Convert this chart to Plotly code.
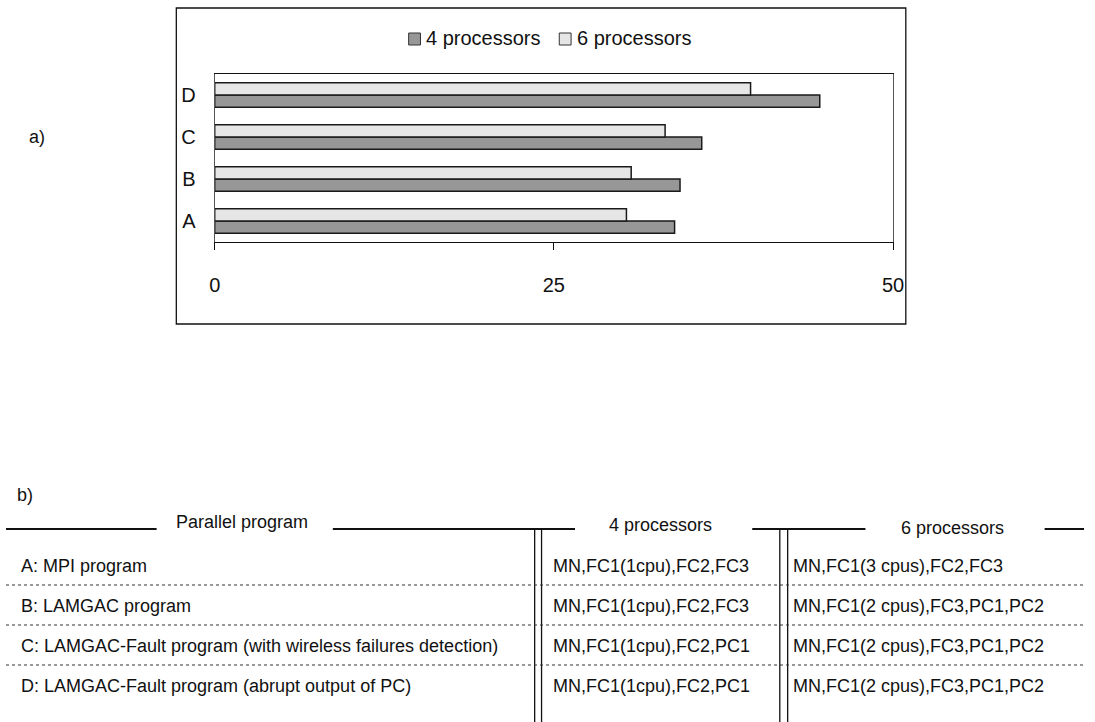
import plotly.graph_objects as go

W, H = 1095, 722

# ---------------- data ----------------
categories = ["A", "B", "C", "D"]
series_names = ["4 processors", "6 processors"]
vals_4proc = [33.9, 34.3, 35.9, 44.6]
vals_6proc = [30.35, 30.7, 33.2, 39.5]
x_ticks = [0, 25, 50]

header_labels = ["Parallel program", "4 processors", "6 processors"]
program_names = [
    "A: MPI program",
    "B: LAMGAC program",
    "C: LAMGAC-Fault program (with wireless failures detection)",
    "D: LAMGAC-Fault program (abrupt output of PC)",
]
config_4proc = [
    "MN,FC1(1cpu),FC2,FC3",
    "MN,FC1(1cpu),FC2,FC3",
    "MN,FC1(1cpu),FC2,PC1",
    "MN,FC1(1cpu),FC2,PC1",
]
config_6proc = [
    "MN,FC1(3 cpus),FC2,FC3",
    "MN,FC1(2 cpus),FC3,PC1,PC2",
    "MN,FC1(2 cpus),FC3,PC1,PC2",
    "MN,FC1(2 cpus),FC3,PC1,PC2",
]


def px(x):
    return x / W


def py(y):
    return 1 - y / H


FONT = "Liberation Sans, Arial, sans-serif"
colors = ["#979797", "#e6e6e6"]

fig = go.Figure()
for name, vals, col in zip(series_names, [vals_4proc, vals_6proc], colors):
    fig.add_trace(go.Bar(
        y=categories, x=vals, orientation="h", name=name, showlegend=False,
        marker=dict(color=col, line=dict(color="#1a1a1a", width=1.5)),
    ))

shapes = []
annotations = []

# outer frame of chart a)
shapes.append(dict(type="rect", xref="paper", yref="paper",
                   x0=px(173), x1=px(914), y0=py(324), y1=py(8),
                   line=dict(color="#111", width=1.3)))

# legend (manual, Excel style: small square right next to the text)
for name, col, sx in zip(series_names, colors, [409, 562]):
    shapes.append(dict(type="rect", xref="paper", yref="paper",
                       x0=px(sx), x1=px(sx + 12), y0=py(45), y1=py(33),
                       fillcolor=col, line=dict(color="#333", width=1)))
    annotations.append(dict(text=name, xref="paper", yref="paper", x=px(sx + 16), y=py(38),
                            xanchor="left", yanchor="middle", showarrow=False,
                            font=dict(size=20, color="#111", family=FONT)))

annotations.append(dict(text="a)", xref="paper", yref="paper", x=px(21), y=py(137),
                        xanchor="left", yanchor="middle", showarrow=False,
                        font=dict(size=18, color="#111", family=FONT)))
annotations.append(dict(text="b)", xref="paper", yref="paper", x=px(9), y=py(495),
                        xanchor="left", yanchor="middle", showarrow=False,
                        font=dict(size=18, color="#111", family=FONT)))

# ---------- table b) ----------
hdr_y = 529
for x0, x1 in [(0, 153), (332, 578), (758, 873), (1055, 1095)]:
    shapes.append(dict(type="line", xref="paper", yref="paper",
                       x0=px(x0), x1=px(x1), y0=py(hdr_y), y1=py(hdr_y),
                       line=dict(color="#111", width=2)))
for xv in [537, 544, 786, 794]:
    shapes.append(dict(type="line", xref="paper", yref="paper",
                       x0=px(xv), x1=px(xv), y0=py(hdr_y), y1=py(H),
                       line=dict(color="#111", width=1.3)))
for yv in [585, 625, 665]:
    shapes.append(dict(type="line", xref="paper", yref="paper",
                       x0=0, x1=1, y0=py(yv), y1=py(yv),
                       line=dict(color="#333", width=1, dash="dot")))

for lab, cx, cy in zip(header_labels, [240, 665, 961], [522, 525, 528]):
    annotations.append(dict(text=lab, xref="paper", yref="paper", x=px(cx), y=py(cy),
                            xanchor="center", yanchor="middle", showarrow=False,
                            font=dict(size=18, color="#111", family=FONT)))

row_y = [566, 606, 646, 686]
for i, ry in enumerate(row_y):
    for txt, lx in [(program_names[i], 13), (config_4proc[i], 554), (config_6proc[i], 797)]:
        annotations.append(dict(text=txt, xref="paper", yref="paper", x=px(lx), y=py(ry),
                                xanchor="left", yanchor="middle", showarrow=False,
                                font=dict(size=18, color="#111", family=FONT)))

fig.update_layout(
    width=W, height=H,
    margin=dict(l=0, r=0, t=0, b=0),
    paper_bgcolor="white", plot_bgcolor="white",
    barmode="group", bargap=0.42, bargroupgap=0,
    showlegend=False,
    xaxis=dict(domain=[px(212), px(901)], range=[0, 50], tickvals=x_ticks,
               showgrid=False, zeroline=False, showline=True, linecolor="#111", linewidth=1,
               mirror=True, ticks="outside", ticklen=7, tickcolor="#111",
               ticklabelstandoff=18,
               tickfont=dict(size=20, color="#111", family=FONT), fixedrange=True),
    yaxis=dict(domain=[py(242), py(74)], categoryorder="array", categoryarray=categories,
               showgrid=False, zeroline=False, showline=True, linecolor="#555", linewidth=1,
               mirror=True, ticks="", ticklabelstandoff=14,
               tickfont=dict(size=20, color="#111", family=FONT), fixedrange=True),
    shapes=shapes, annotations=annotations,
    font=dict(family=FONT),
)

post = """
document.documentElement.style.margin='0';document.body.style.margin='0';
document.documentElement.style.overflow='hidden';document.body.style.overflow='hidden';
"""
fig.write_html("out.html", post_script=post, config={"displayModeBar": False})
